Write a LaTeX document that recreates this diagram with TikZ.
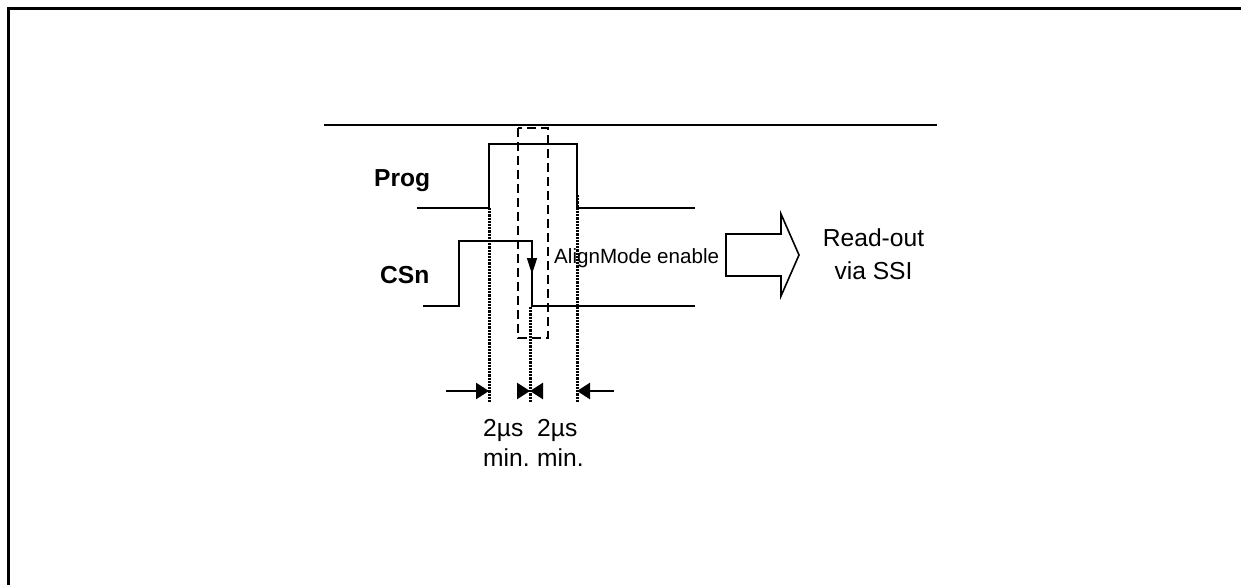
\documentclass[tikz,border=0pt]{standalone}
\usepackage{fontspec}
\setmainfont{Liberation Sans}
\usetikzlibrary{arrows.meta}
\begin{document}
\begin{tikzpicture}[x=1pt,y=-1pt,
  sig/.style={line width=1.6pt, line join=miter},
  dotline/.style={line width=3pt, dash pattern=on 2.2pt off 1pt},
  dashbox/.style={line width=2.8pt, dash pattern=on 9pt off 5pt},
  meas/.style={line width=2.6pt, -{Triangle[length=13pt,width=16pt]}},
  lbl/.style={inner sep=0pt, font=\fontsize{24.6}{30}\selectfont},
  blbl/.style={inner sep=0pt, font=\fontsize{24.6}{30}\selectfont\bfseries},
  slbl/.style={inner sep=0pt, font=\fontsize{20.6}{25}\selectfont}]
\clip (0,0) rectangle (1241,585);
% frame
\draw[line width=3pt] (8,9) rectangle (1300,650);
% top line
\draw[line width=2.4pt] (324,125) -- (937,125);
% Prog waveform
\draw[sig] (417,208) -- (489,208) -- (489,144) -- (577,144) -- (577,208) -- (695,208);
% CSn waveform
\draw[sig] (423,306) -- (459,306) -- (459,241) -- (532,241) -- (532,306) -- (695,306);
\draw[line width=1.6pt, -{Triangle[length=16pt,width=10pt]}] (532,241) -- (532,274);
% dashed box
\draw[dashbox] (518,128) rectangle (548,338);
% dotted guides
\draw[dotline] (489,208) -- (489,402);
\draw[dotline] (577,195) -- (577,402);
\draw[dotline] (530,307) -- (530,402);
% measurement arrows
\coordinate (la) at (446,391); \coordinate (lt) at (489,391);
\coordinate (ra) at (614,391); \coordinate (rt) at (577,391);
\coordinate (ma) at (517,391); \coordinate (mt) at (530,391);
\coordinate (mb) at (543,391);
\draw[meas] (la) -- (lt);
\draw[meas] (ra) -- (rt);
\draw[meas] (ma) -- (mt);
\draw[meas] (mb) -- (mt);
% block arrow
\draw[line width=1.6pt, line join=miter] (726,234) -- (781,234) -- (781,214) -- (799,255) -- (781,296) -- (781,276) -- (726,276) -- cycle;
% labels
\node[blbl, anchor=base west] (prog) at (374,187) {Prog};
\node[blbl, anchor=base west] (csn) at (380,283) {CSn};
\node[slbl, anchor=base west] (align) at (554,263) {AlignMode enable};
\node[lbl, anchor=base] (read) at (873.5,247) {Read-out};
\node[lbl, anchor=base] (ssi) at (873.5,279) {via SSI};
\node[lbl, anchor=base west] (t1) at (483,436) {2µs};
\node[lbl, anchor=base west] (t2) at (537,436) {2µs};
\node[lbl, anchor=base west] (m1) at (483,466) {min.};
\node[lbl, anchor=base west] (m2) at (537,466) {min.};
\end{tikzpicture}
\end{document}
